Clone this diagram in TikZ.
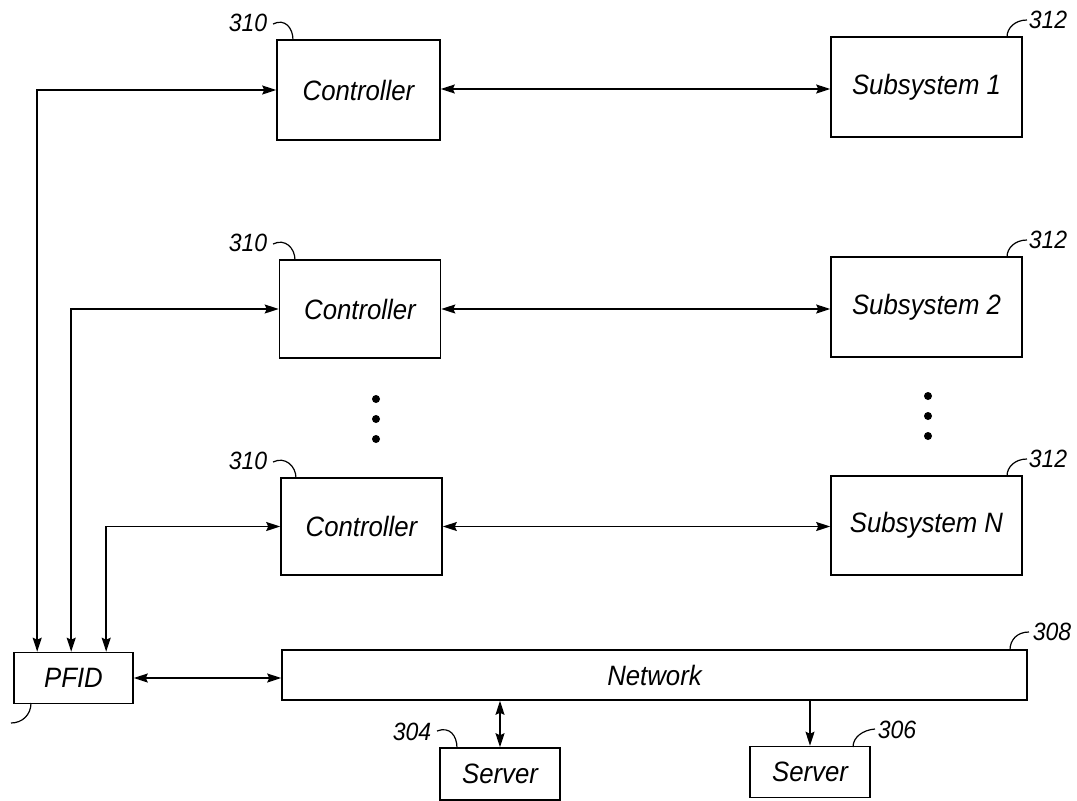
\documentclass[tikz,border=0pt]{standalone}
\usepackage{fontspec}
\setmainfont{Liberation Sans}[FakeStretch=0.92]
\usetikzlibrary{arrows.meta}
\begin{document}
\begin{tikzpicture}[x=1pt,y=-1pt,
  blk/.style={draw,line width=1.6pt,inner sep=0pt,font=\fontsize{28}{30}\selectfont\itshape},
  lbl/.style={font=\fontsize{25}{27}\selectfont\itshape,inner sep=0pt},
  conn/.style={line width=1.5pt},
  tip/.tip={Stealth[length=14pt,width=9pt,inset=2pt]},
  hook/.style={line width=1.2pt},
  dot/.style={circle,fill,inner sep=0pt,minimum size=8pt}]
\useasboundingbox (0,0) rectangle (1077,801);
% blocks
\node[blk,minimum width=163pt,minimum height=100pt] (c1) at (358.5,90) {Controller};
\node[blk,minimum width=161pt,minimum height=98pt] (c2) at (360,309) {Controller};
\node[blk,minimum width=161pt,minimum height=97pt] (c3) at (361.5,526.5) {Controller};
\node[blk,minimum width=191pt,minimum height=100pt] (s1) at (926.5,87) {Subsystem 1};
\node[blk,minimum width=191pt,minimum height=100pt] (s2) at (926.5,307) {Subsystem 2};
\node[blk,minimum width=191pt,minimum height=99pt] (s3) at (926.5,525.5) {Subsystem N};
\node[blk,minimum width=119pt,minimum height=51pt] (pfid) at (73.5,678) {PFID};
\node[blk,minimum width=745pt,minimum height=50pt] (net) at (654.5,675) {Network};
\node[blk,minimum width=120pt,minimum height=52pt] (sv1) at (500,774) {Server};
\node[blk,minimum width=120pt,minimum height=51pt] (sv2) at (810,772) {Server};
% dots
\node[dot] (d1) at (376,399) {};
\node[dot] (d2) at (376,419) {};
\node[dot] (d3) at (376,439) {};
\node[dot] (d4) at (928,396) {};
\node[dot] (d5) at (928,416) {};
\node[dot] (d6) at (928,436) {};
% controller <-> subsystem
\draw[conn,tip-tip] (c1.west -| c1.east) ++(0,-1) coordinate (a1) -- (a1 -| s1.west);
\draw[conn,tip-tip] (c2.east) -- (c2.east -| s2.west);
\draw[conn,tip-tip] (c3.east) -- (c3.east -| s3.west);
% PFID <-> controllers
\coordinate (p1) at ([xshift=24pt]pfid.north west);
\coordinate (p2) at ([xshift=58pt]pfid.north west);
\coordinate (p3) at ([xshift=93pt]pfid.north west);
\draw[conn,tip-tip] (c1.west) -| (p1);
\draw[conn,tip-tip] (c2.west) -| (p2);
\draw[conn,tip-tip] (c3.west) -| (p3);
% PFID <-> network
\draw[conn,tip-tip] (pfid.east) -- (pfid.east -| net.west);
% network -> servers
\draw[conn,tip-tip] (sv1.north |- net.south) -- (sv1.north);
\draw[conn,-tip] (sv2.north |- net.south) -- (sv2.north);
% reference labels
\node[lbl] (l310a) at (248,23) {310};
\draw[hook] (273,24) .. controls (285,18) and (293,28) .. (293,40);
\node[lbl] (l310b) at (248,243) {310};
\draw[hook] (273,244) .. controls (285,238) and (295,248) .. (295,260);
\node[lbl] (l310c) at (248,461) {310};
\draw[hook] (273,462) .. controls (285,456) and (296,466) .. (296,478);
\node[lbl] (l312a) at (1048,20) {312};
\draw[hook] (1027,20) .. controls (1015,20) and (1007,28) .. (1007,37);
\node[lbl] (l312b) at (1048,240) {312};
\draw[hook] (1027,240) .. controls (1015,240) and (1007,248) .. (1007,257);
\node[lbl] (l312c) at (1048,459) {312};
\draw[hook] (1027,459) .. controls (1015,459) and (1007,467) .. (1007,476);
\node[lbl] (l308) at (1052,632) {308};
\draw[hook] (1029,632) .. controls (1017,632) and (1010,640) .. (1010,650);
\node[lbl] (l304) at (412,732) {304};
\draw[hook] (437,731) .. controls (450,726) and (457,736) .. (457,748);
\node[lbl] (l306) at (897,730) {306};
\draw[hook] (875,729) .. controls (863,730) and (853,737) .. (853,747);
\draw[hook] (31,703) .. controls (31,715) and (22,723) .. (11,723);
\end{tikzpicture}
\end{document}
